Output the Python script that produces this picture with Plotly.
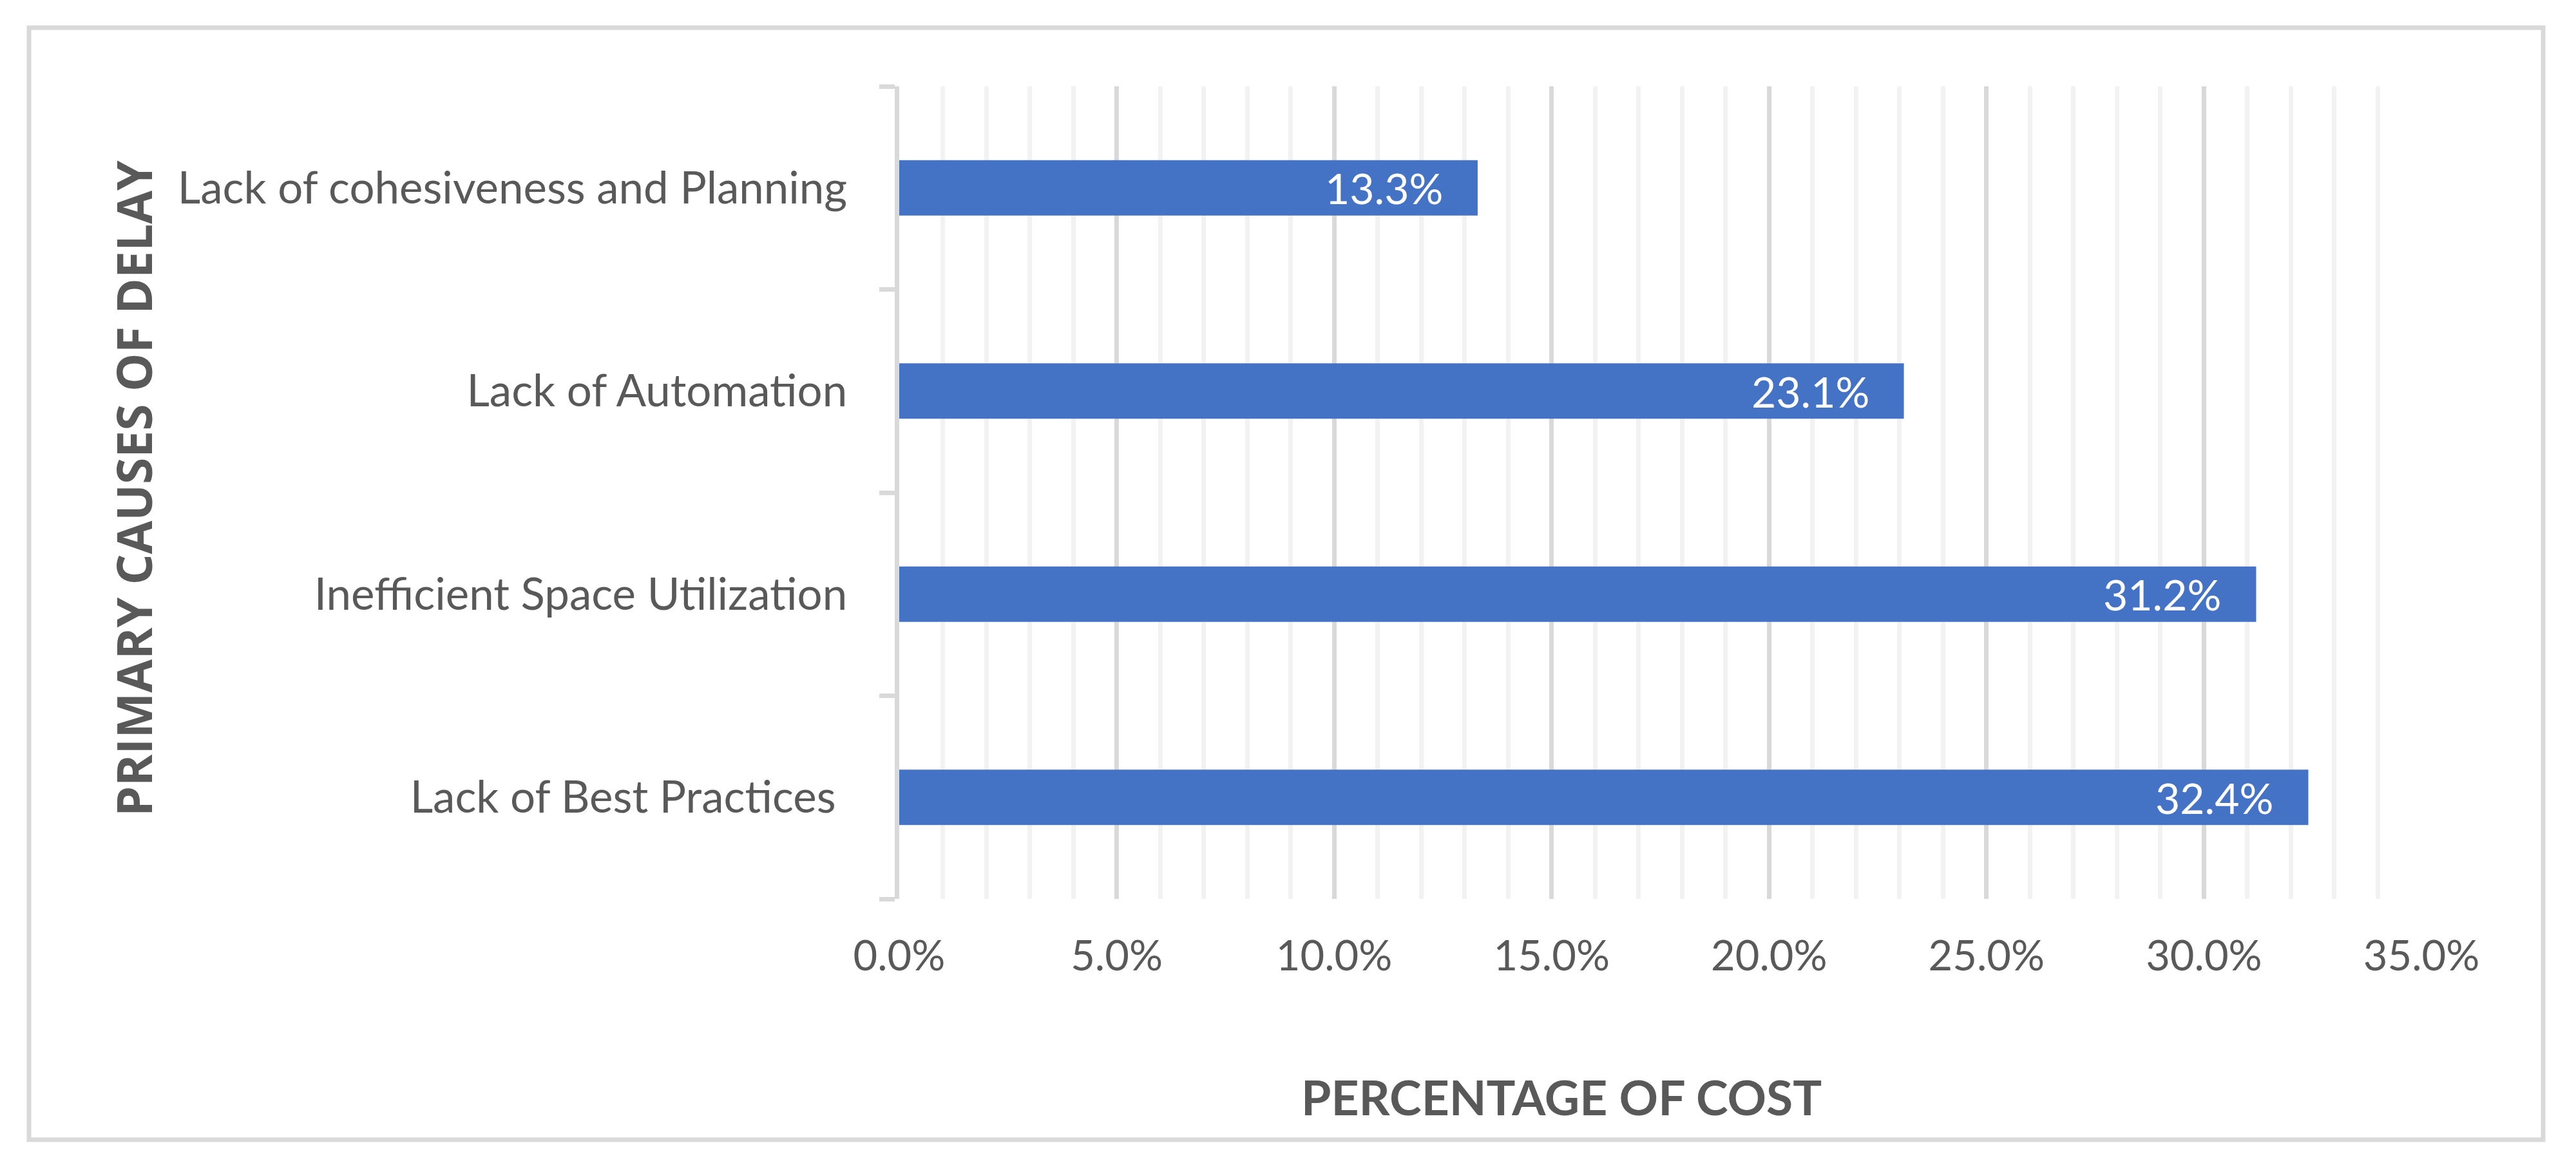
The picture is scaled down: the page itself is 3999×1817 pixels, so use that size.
import plotly.graph_objects as go

# Data (bottom-to-top order as drawn by the categorical axis)
categories = [
    "Lack of Best Practices\u00a0",
    "Inefficient Space Utilization",
    "Lack of Automation",
    "Lack of cohesiveness and Planning",
]
values = [0.324, 0.312, 0.231, 0.133]
value_labels = ["32.4%", "31.2%", "23.1%", "13.3%"]
x_title = "PERCENTAGE OF COST"
y_title = "PRIMARY CAUSES OF DELAY"

W, H = 3999, 1817
L, R, T, B = 1396, 3759, 134, 1396  # plot area in pixels

def px_x(p):
    return (p - L) / (R - L)

def px_y(p):
    return (B - p) / (B - T)

GRAY = "#595959"
GRID = "#d9d9d9"
MINOR = "#f2f2f2"
BLUE = "#4472C4"

fig = go.Figure()
fig.add_trace(go.Bar(
    x=values,
    y=categories,
    orientation="h",
    width=0.272,
    marker=dict(color=BLUE, line=dict(width=0)),
    hoverinfo="skip",
))

for v, c, t in zip(values, categories, value_labels):
    fig.add_annotation(
        x=v, y=c, xref="x", yref="y", text=t, showarrow=False,
        xanchor="right", yanchor="middle", xshift=-52,
        font=dict(family="Lato", size=66, color="white"),
    )

fig.add_annotation(
    x=px_x(2424), y=px_y(1703), xref="paper", yref="paper",
    text=x_title, showarrow=False, xanchor="center", yanchor="middle",
    font=dict(family="Lato", size=75, color=GRAY, weight="bold"),
)
fig.add_annotation(
    x=px_x(207), y=px_y(759), xref="paper", yref="paper",
    text=y_title, showarrow=False, xanchor="center", yanchor="middle",
    textangle=-90,
    font=dict(family="Open Sans", size=75, color=GRAY, weight="bold"),
)

fig.add_shape(
    type="rect", xref="paper", yref="paper",
    x0=px_x(45), x1=px_x(3948), y0=px_y(1770), y1=px_y(43),
    line=dict(color=GRID, width=7), fillcolor="rgba(0,0,0,0)", layer="below",
)

fig.update_layout(
    width=W, height=H,
    margin=dict(l=L, r=W - R, t=T, b=H - B, autoexpand=False),
    paper_bgcolor="white", plot_bgcolor="white",
    showlegend=False,
    font=dict(family="Lato", color=GRAY, size=65),
    xaxis=dict(
        range=[0, 0.35], dtick=0.05, tick0=0, tickformat=".1%",
        showgrid=True, gridcolor=GRID, gridwidth=7,
        minor=dict(dtick=0.01, showgrid=True, gridcolor=MINOR, gridwidth=7),
        zeroline=False, showline=False, ticks="",
        tickfont=dict(family="Lato", size=65, color=GRAY),
        ticklabelstandoff=45,
    ),
    yaxis=dict(
        type="category", tickson="boundaries",
        showgrid=False, zeroline=False,
        showline=True, linecolor=GRID, linewidth=7,
        ticks="outside", ticklen=24, tickwidth=7, tickcolor=GRID,
        tickfont=dict(family="Lato", size=69, color=GRAY),
        ticklabelstandoff=60,
    ),
)

fig.write_html(
    "out.html",
    config={"displayModeBar": False, "staticPlot": True},
    post_script="document.body.style.margin='0';document.body.style.overflow='hidden';",
)
